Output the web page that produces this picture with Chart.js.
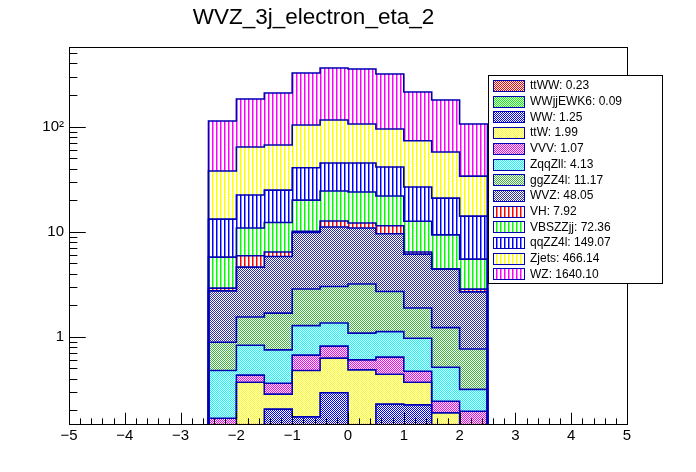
<!DOCTYPE html>
<html>
<head>
<meta charset="utf-8">
<script src="https://cdn.jsdelivr.net/npm/chart.js@4.4.0/dist/chart.umd.min.js"></script>
<style>
html, body { margin: 0; padding: 0; background: #ffffff; }
#stackChart { display: block; }
</style>
</head>
<body>
<canvas id="stackChart" width="696" height="472"></canvas>
<script>
// eta bins (centres, width 0.5)
var binCenters = [-2.25, -1.75, -1.25, -0.75, -0.25, 0.25, 0.75, 1.25, 1.75, 2.25];

// per-sample yields, bottom of the stack first
var ttWW     = [0.005, 0.01, 0.02, 0.03, 0.04, 0.035, 0.035, 0.03, 0.015, 0.01];
var wwjjEWK6 = [0.003, 0.006, 0.008, 0.012, 0.014, 0.013, 0.012, 0.01, 0.007, 0.005];
var ww       = [0.05, 0.06, 0.177, 0.131, 0.24, 0.09, 0.182, 0.185, 0.09, 0.04];
var ttW      = [0.062, 0.294, 0.08, 0.305, 0.333, 0.347, 0.212, 0.145, 0.077, 0.085];
var vvv      = [0.048, 0.062, 0.077, 0.191, 0.188, 0.119, 0.2, 0.101, 0.055, 0.056];
var zqqZll   = [0.31, 0.40, 0.39, 0.61, 0.54, 0.48, 0.48, 0.50, 0.27, 0.12];
var ggZZ4l   = [0.41, 0.71, 0.93, 1.57, 1.66, 2.10, 1.58, 0.91, 0.71, 0.45];
var wvz      = [1.85, 3.07, 4.14, 7.00, 8.08, 7.67, 6.87, 4.25, 3.18, 1.91];
var vh       = [0.17, 1.30, 0.59, 0.25, 1.55, 1.25, 1.83, 0.28, 0.04, 0.17];
var vbsZZjj  = [2.83, 4.94, 5.86, 9.90, 11.76, 11.80, 10.50, 6.19, 4.91, 2.65];
var qqZZ4l   = [7.46, 11.55, 12.63, 20.70, 20.70, 21.20, 19.40, 14.10, 11.54, 8.60];
var zjets    = [24.7, 41.7, 42.0, 63.1, 70.7, 61.0, 53.8, 46.8, 36.5, 19.8];
var wz       = [75.4, 119.5, 142.5, 220.8, 246.6, 248.5, 222.6, 140.5, 122.2, 72.2];

var sampleNames  = ['ttWW', 'WWjjEWK6', 'WW', 'ttW', 'VVV', 'ZqqZll', 'ggZZ4l', 'WVZ', 'VH', 'VBSZZjj', 'qqZZ4l', 'Zjets', 'WZ'];
var sampleTotals = ['0.23', '0.09', '1.25', '1.99', '1.07', '4.13', '11.17', '48.05', '7.92', '72.36', '149.07', '466.14', '1640.10'];
var sampleValues = [ttWW, wwjjEWK6, ww, ttW, vvv, zqqZll, ggZZ4l, wvz, vh, vbsZZjj, qqZZ4l, zjets, wz];

var sampleColors = ['#ff0000', '#00ff00', '#0000ff', '#ffff00', '#ff00ff', '#00ffff', '#3cb83c', '#3030a8',
                    '#ff0000', '#00ff00', '#0000ff', '#ffff00', '#ff00ff'];
var sampleFills  = ['checker', 'checker', 'checker', 'checker', 'checker', 'checker', 'checker', 'checker',
                    'vlines', 'vlines', 'vlines', 'vlines', 'vlines'];

var lineColor = '#0000b4';
var fontFamily = '"Liberation Sans", Arial, Helvetica, sans-serif';

function makePattern(kind, color) {
    var c = document.createElement('canvas');
    var g = c.getContext('2d');
    if (kind === 'checker') {
        c.width = 2; c.height = 2;
        g.fillStyle = '#ffffff'; g.fillRect(0, 0, 2, 2);
        g.fillStyle = color; g.fillRect(0, 0, 1, 1); g.fillRect(1, 1, 1, 1);
    } else {
        c.width = 4; c.height = 1;
        g.fillStyle = '#ffffff'; g.fillRect(0, 0, 4, 1);
        g.fillStyle = color; g.fillRect(0, 0, 1, 1);
        g.globalAlpha = 0.5; g.fillRect(1, 0, 1, 1);
    }
    return g.createPattern(c, 'repeat');
}

var datasets = [];
for (var i = 0; i < sampleNames.length; i++) {
    datasets.push({
        label: sampleNames[i] + ': ' + sampleTotals[i],
        data: binCenters.map(function(c, j) { return {x: c, y: sampleValues[i][j]}; }),
        backgroundColor: makePattern(sampleFills[i], sampleColors[i]),
        borderWidth: 0,
        barPercentage: 1.0,
        categoryPercentage: 1.0
    });
}

function isDecade(v) {
    var l = Math.log10(v);
    return Math.abs(l - Math.round(l)) < 1e-9;
}

var rootStyle = {
    id: 'rootStyle',
    afterDatasetsDraw: function(chart) {
        var ctx = chart.ctx, area = chart.chartArea;
        ctx.save();
        ctx.beginPath();
        ctx.rect(area.left, area.top, area.right - area.left, area.bottom - area.top);
        ctx.clip();
        ctx.strokeStyle = lineColor;
        ctx.lineWidth = 1.6;
        ctx.lineJoin = 'miter';
        for (var d = 0; d < chart.data.datasets.length; d++) {
            var bars = chart.getDatasetMeta(d).data;
            if (!bars.length) continue;
            ctx.beginPath();
            var first = bars[0].getProps(['x', 'y', 'width'], true);
            ctx.moveTo(first.x - first.width / 2, area.bottom);
            for (var b = 0; b < bars.length; b++) {
                var p = bars[b].getProps(['x', 'y', 'width'], true);
                ctx.lineTo(p.x - p.width / 2, p.y);
                ctx.lineTo(p.x + p.width / 2, p.y);
            }
            var last = bars[bars.length - 1].getProps(['x', 'y', 'width'], true);
            ctx.lineTo(last.x + last.width / 2, area.bottom);
            ctx.stroke();
        }
        ctx.restore();
    },
    afterDraw: function(chart) {
        var ctx = chart.ctx, area = chart.chartArea;
        var xs = chart.scales.x, ys = chart.scales.y;
        var w = area.right - area.left, h = area.bottom - area.top;
        ctx.save();
        ctx.strokeStyle = '#000000';
        ctx.lineWidth = 1;
        ctx.strokeRect(Math.round(area.left) + 0.5, Math.round(area.top) + 0.5,
                       Math.round(w), Math.round(h));

        // x ticks (5 subdivisions per unit), drawn upward from the axis
        ctx.beginPath();
        var nx = Math.round((xs.max - xs.min) * 5);
        for (var s = 0; s <= nx; s++) {
            var xv = xs.min + s / 5;
            var px = Math.round(xs.getPixelForValue(xv)) + 0.5;
            var len = (s % 5 === 0) ? 0.03 * h : 0.015 * h;
            ctx.moveTo(px, area.bottom);
            ctx.lineTo(px, area.bottom - len);
        }
        // y ticks, drawn rightward from the axis (decades and 2..9)
        ys.ticks.forEach(function(t) {
            var v = t.value;
            var e = Math.floor(Math.log10(v) + 1e-9);
            var sig = v / Math.pow(10, e);
            if (Math.abs(sig - Math.round(sig)) > 1e-6) return;
            var py = Math.round(ys.getPixelForValue(v)) + 0.5;
            if (py < area.top || py > area.bottom) return;
            var len = isDecade(v) ? 0.03 * w : 0.015 * w;
            ctx.moveTo(area.left, py);
            ctx.lineTo(area.left + len, py);
        });
        ctx.stroke();

        // legend box
        var lx = 488, ly = 75, lw = 174, lh = 208;
        ctx.fillStyle = '#ffffff';
        ctx.fillRect(lx, ly, lw, lh);
        ctx.strokeStyle = '#000000';
        ctx.strokeRect(lx + 0.5, ly + 0.5, lw, lh);
        ctx.font = '12px ' + fontFamily;
        ctx.textBaseline = 'middle';
        ctx.textAlign = 'left';
        for (var k = 0; k < chart.data.datasets.length; k++) {
            var cy = ly + 10.5 + k * 15.7;
            var sy = Math.round(cy - 5.5);
            ctx.fillStyle = chart.data.datasets[k].backgroundColor;
            ctx.fillRect(493, sy, 31, 11);
            ctx.strokeStyle = lineColor;
            ctx.strokeRect(493.5, sy + 0.5, 31, 11);
            ctx.fillStyle = '#000000';
            ctx.fillText(chart.data.datasets[k].label, 530, cy + 0.5);
        }
        ctx.restore();
    }
};

var ctx = document.getElementById('stackChart').getContext('2d');
var chart = new Chart(ctx, {
    type: 'bar',
    data: { datasets: datasets },
    options: {
        responsive: false,
        animation: false,
        devicePixelRatio: 1,
        layout: { padding: { left: 0, right: 69, top: 0, bottom: 0 } },
        plugins: {
            legend: { display: false },
            tooltip: { enabled: false },
            title: {
                display: true,
                text: 'WVZ_3j_electron_eta_2',
                color: '#000000',
                font: { family: fontFamily, size: 22.5, weight: 'normal', lineHeight: 1.2 },
                padding: { top: 4, bottom: 16 }
            }
        },
        scales: {
            x: {
                type: 'linear',
                min: -5,
                max: 5,
                stacked: true,
                offset: false,
                grid: { display: false, drawTicks: false, offset: false },
                border: { display: false },
                ticks: {
                    stepSize: 1,
                    autoSkip: false,
                    maxRotation: 0,
                    padding: 3,
                    color: '#000000',
                    font: { family: fontFamily, size: 15 },
                    callback: function(v) {
                        var r = Math.round(v);
                        return r < 0 ? '\u2212' + (-r) : String(r);
                    }
                },
                afterFit: function(scale) { scale.height = 48; }
            },
            y: {
                type: 'logarithmic',
                min: 0.148,
                max: 574,
                stacked: true,
                grid: { display: false, drawTicks: false },
                border: { display: false },
                ticks: {
                    autoSkip: false,
                    padding: 5,
                    color: '#000000',
                    font: { family: fontFamily, size: 15 },
                    callback: function(v) {
                        if (!isDecade(v)) return '';
                        var e = Math.round(Math.log10(v));
                        if (e === 0) return '1';
                        if (e === 1) return '10';
                        if (e === 2) return '10\u00b2';
                        return '';
                    }
                },
                afterFit: function(scale) { scale.width = 69; }
            }
        }
    },
    plugins: [rootStyle]
});
</script>
</body>
</html>
